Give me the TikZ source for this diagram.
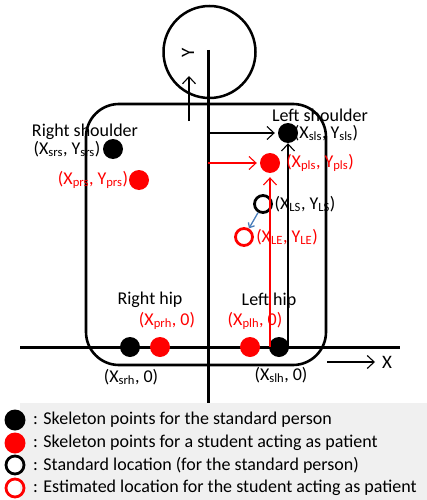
\documentclass[tikz,border=0pt]{standalone}
\usepackage{fontspec}
\setmainfont{Carlito}
\usetikzlibrary{arrows.meta}
\definecolor{lgray}{HTML}{F0F0F0}
\definecolor{arrblue}{HTML}{4A7EBB}
\begin{document}
\begin{tikzpicture}[x=1pt,y=-1pt,font=\fontsize{18}{21}\selectfont,
  dotk/.style={circle,fill=black,inner sep=0,minimum size=20pt},
  dotr/.style={circle,fill=red,inner sep=0,minimum size=20pt},
  ringk/.style={circle,draw=black,line width=2.8pt,inner sep=0,minimum size=17pt},
  ringr/.style={circle,draw=red,line width=2.8pt,inner sep=0,minimum size=17pt},
  tarr/.style={-{Straight Barb[length=7pt,width=13pt]},line width=1.1pt},
  lbl/.style={inner sep=0},
  axislbl/.style={inner sep=0,font=\fontsize{19}{22}\selectfont},
  legtxt/.style={anchor=west,inner sep=0}]
\useasboundingbox (0,0) rectangle (427,500);
% legend background
\fill[lgray] (20,403) rectangle (427,500);
% head and body
\node[circle,draw,line width=2.5pt,minimum size=92pt,inner sep=0] (head) at (209.5,52) {};
\node[draw,line width=2.6pt,rounded corners=33pt,minimum width=240pt,minimum height=261pt,inner sep=0] (body) at (206,234.5) {};
% axes
\coordinate (yt) at (208,50);
\coordinate (yb) at (208,403);
\coordinate (xl) at (20,347);
\coordinate (xr) at (400,347);
\draw[line width=3pt] (yt) -- (yb);
\draw[line width=3pt] (xl) -- (xr);
% axis arrows and labels
\coordinate (ya0) at (189,121);
\coordinate (ya1) at (189,76);
\draw[tarr] (ya0) -- (ya1);
\node[axislbl,rotate=90] (ylab) at (188,53) {Y};
\coordinate (xa0) at (327,362);
\coordinate (xa1) at (375,362);
\draw[tarr] (xa0) -- (xa1);
\node[axislbl] (xlab) at (387,362) {X};
% points
\node[dotk] (srs) at (113,149) {};
\node[dotr] (prs) at (139,180) {};
\node[dotk] (sls) at (288,133) {};
\node[dotr] (pls) at (270,163) {};
\node[ringk] (ls) at (263,204) {};
\node[ringr] (le) at (244,237) {};
\node[dotk] (srh) at (130,347) {};
\node[dotr] (prh) at (160,347) {};
\node[dotr] (plh) at (250,347) {};
\node[dotk] (slh) at (279,347) {};
% arrows
\coordinate (ax1) at (208,133);
\coordinate (ax2) at (208,163);
\coordinate (h1) at (288,347);
\coordinate (h2) at (270,347);
\draw[tarr,shorten >=3pt] (ax1) -- (sls);
\draw[tarr,red,shorten >=3pt] (ax2) -- (pls);
\draw[tarr] (h1) -- (sls);
\draw[tarr,red,shorten >=4pt] (h2) -- (pls);
\draw[-{Straight Barb[length=4pt,width=7pt]},arrblue,line width=1.3pt] (ls) -- (le);
% labels
\node[lbl] (t1) at (85,132) {Right shoulder};
\node[lbl] (t2) at (67,149) {(X\textsubscript{srs}, Y\textsubscript{srs})};
\node[lbl,red] (t3) at (93,180) {(X\textsubscript{prs}, Y\textsubscript{prs})};
\node[lbl] (t4) at (320,115) {Left shoulder};
\node[lbl] (t5) at (326,133) {(X\textsubscript{sls}, Y\textsubscript{sls})};
\node[lbl,red] (t6) at (320,163) {(X\textsubscript{pls}, Y\textsubscript{pls})};
\node[lbl] (t7) at (305,204) {(X\textsubscript{LS}, Y\textsubscript{LS})};
\node[lbl,red] (t8) at (287,237) {(X\textsubscript{LE}, Y\textsubscript{LE})};
\node[lbl] (t9) at (150,300) {Right hip};
\node[lbl,red] (t10) at (167,321) {(X\textsubscript{prh}, 0)};
\node[lbl] (t11) at (269,301) {Left hip};
\node[lbl,red] (t12) at (255,321) {(X\textsubscript{plh}, 0)};
\node[lbl] (t13) at (131,377) {(X\textsubscript{srh}, 0)};
\node[lbl] (t14) at (281,375) {(X\textsubscript{slh}, 0)};
% legend
\node[dotk,minimum size=21pt] (lg1) at (15,420) {};
\node[dotr,minimum size=21pt] (lg2) at (15,443) {};
\node[ringk,minimum size=18pt] (lg3) at (15,465) {};
\node[ringr,minimum size=18pt] (lg4) at (15,488) {};
\node[legtxt] (lt1) at (33,420) {: Skeleton points for the standard person};
\node[legtxt] (lt2) at (33,443) {: Skeleton points for a student acting as patient};
\node[legtxt] (lt3) at (33,465) {: Standard location (for the standard person)};
\node[legtxt] (lt4) at (33,488) {: Estimated location for the student acting as patient};
\end{tikzpicture}
\end{document}
